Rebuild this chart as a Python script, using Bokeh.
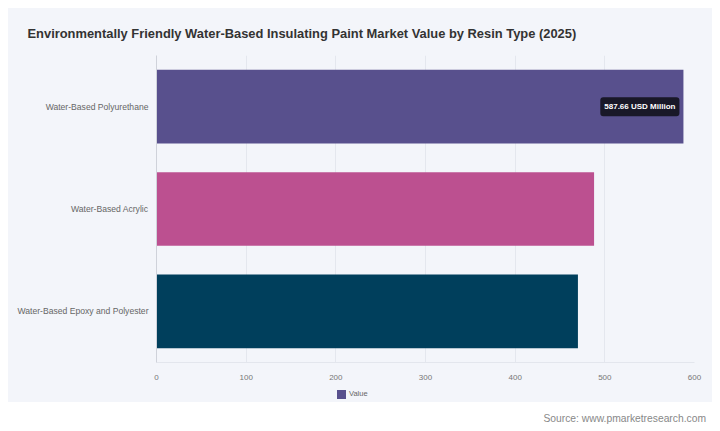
from bokeh.plotting import figure
from bokeh.models import FactorRange, Range1d, Label, ColumnDataSource, FixedTicker, Div
from bokeh.layouts import column
from bokeh.embed import file_html
from bokeh.resources import INLINE

title_text = "Environmentally Friendly Water-Based Insulating Paint Market Value by Resin Type (2025)"
categories = ["Water-Based Polyurethane", "Water-Based Acrylic", "Water-Based Epoxy and Polyester"]
values = [587.66, 488, 470]
colors = ["#58508d", "#bc5090", "#003f5c"]
x_ticks = [0, 100, 200, 300, 400, 500, 600]
series_name = "Value"
unit = "USD Million"
source_text = "Source: www.pmarketresearch.com"

FONT = "Liberation Sans"
CARD = "#f3f5fa"

src = ColumnDataSource(dict(cat=categories, val=values, color=colors))

p = figure(width=704, height=378,
           y_range=FactorRange(factors=categories[::-1]),
           x_range=Range1d(0, 600),
           output_backend="svg", toolbar_location=None,
           min_border_left=148, min_border_right=18,
           min_border_top=47, min_border_bottom=24)
p.margin = 0
p.background_fill_color = CARD
p.border_fill_color = CARD
p.outline_line_color = None

r = p.hbar(y="cat", right="val", left=0, height=0.72, fill_color="color",
           line_color=None, source=src)

p.title.text = title_text
p.title.text_font = FONT
p.title.text_font_size = "12.9px"
p.title.text_font_style = "bold"
p.title.text_color = "#333333"
p.title.align = "left"
p.title.offset = -129
p.title.standoff = 29

p.xaxis.ticker = FixedTicker(ticks=x_ticks)
p.xaxis.major_label_text_font = FONT
p.xaxis.major_label_text_font_size = "8px"
p.xaxis.major_label_text_color = "#777777"
p.xaxis.axis_line_color = "#e3e6ed"
p.xaxis.major_tick_line_color = None
p.xaxis.minor_tick_line_color = None
p.xaxis.major_label_standoff = 6

p.yaxis.major_label_text_font = FONT
p.yaxis.major_label_text_font_size = "8.6px"
p.yaxis.major_label_text_color = "#666666"
p.yaxis.axis_line_color = "#cfd2da"
p.yaxis.major_tick_line_color = None
p.yaxis.minor_tick_line_color = None
p.yaxis.major_label_standoff = 2

p.xgrid.grid_line_color = "#e4e7ee"
p.ygrid.grid_line_color = None

n = len(categories)
tip = Label(x=values[0], y=n - 0.5 - 0, x_offset=-4,
            text=f"{values[0]:.2f} {unit}", text_align="right", text_baseline="middle",
            text_color="white", text_font=FONT, text_font_style="bold", text_font_size="8px",
            background_fill_color="#14141f", background_fill_alpha=0.92,
            padding=(4, 5), border_radius=3)
p.add_layout(tip)

legend_html = (
    f'<div style="display:flex;align-items:center;height:16px;padding-left:329px;'
    f'font-family:\'{FONT}\';font-size:7.5px;color:#666666;">'
    f'<span style="display:inline-block;width:9px;height:9px;background:{colors[0]};'
    f'margin-right:3px;"></span>{series_name}</div>'
)
legend_div = Div(text=legend_html, width=704, height=16, margin=0)

card = column(p, legend_div, spacing=0, margin=(8, 8, 0, 8),
              styles={"background-color": CARD})

source_html = (
    f'<div style="width:706px;text-align:right;font-family:\'{FONT}\';font-size:10.3px;'
    f'color:#888888;padding-top:4px;line-height:25px;white-space:nowrap;">{source_text}</div>'
)
source_div = Div(text=source_html, width=720, height=29, margin=0)

layout = column(card, source_div, spacing=0, margin=0)
open("out.html", "w").write(file_html(layout, INLINE))
